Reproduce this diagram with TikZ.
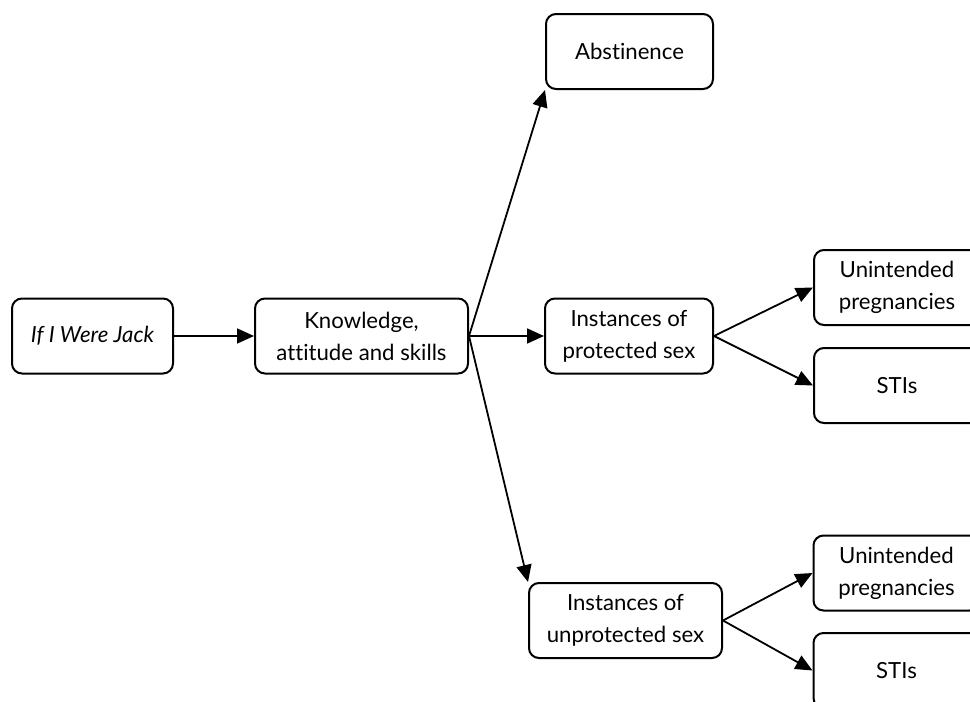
\documentclass[tikz,border=0pt]{standalone}
\usepackage{fontspec}
\setmainfont[Ligatures=NoCommon]{Lato}
\usetikzlibrary{arrows.meta}

\tikzset{
  box/.style={draw, line width=1pt, rounded corners=5pt, inner sep=0pt,
    align=center, minimum height=37.5pt,
    font=\fontsize{11.1}{16}\selectfont},
  link/.style={line width=0.9pt, -{Triangle[length=8.5pt,width=7.5pt]}}
}

\begin{document}
\begin{tikzpicture}[x=0.5pt, y=-0.5pt]
  % page frame; boxes on the right run past the edge
  \useasboundingbox (0,0) rectangle (970,702);
  \clip (0,0) rectangle (970,702);

  \node[box, minimum width=80.5pt] (jack) at (92.5,336) {\itshape If I Were Jack};
  \node[box, minimum width=106.5pt] (kas) at (361.5,336) {Knowledge,\\attitude and skills};
  \node[box, minimum width=83.5pt] (abst) at (629.5,51.5) {Abstinence};
  \node[box, minimum width=84pt] (prot) at (629,336) {Instances of\\protected sex};
  \node[box, minimum width=96.5pt] (unprot) at (625.5,620.5) {Instances of\\unprotected sex};

  \node[box, minimum width=83pt] (preg1) at (897,287.5) {Unintended\\pregnancies};
  \node[box, minimum width=83pt] (sti1) at (897,385.5) {STIs};
  \node[box, minimum width=83pt] (preg2) at (896.5,573) {Unintended\\pregnancies};
  \node[box, minimum width=83pt] (sti2) at (896.5,670.5) {STIs};

  \draw[link] (jack.east) -- (kas.west);
  \draw[link] (kas.east) -- (abst.south west);
  \draw[link] (kas.east) -- (prot.west);
  \draw[link] (kas.east) -- (unprot.north west);
  \draw[link] (prot.east) -- (preg1.west);
  \draw[link] (prot.east) -- (sti1.west);
  \draw[link] (unprot.east) -- (preg2.west);
  \draw[link] (unprot.east) -- (sti2.west);
\end{tikzpicture}
\end{document}
